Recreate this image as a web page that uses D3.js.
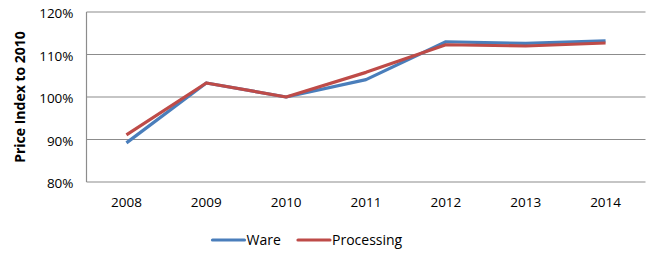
<!DOCTYPE html>
<html>
<head>
<meta charset="utf-8">
<script src="https://cdn.jsdelivr.net/npm/d3@7"></script>
<style>
  body { margin: 0; background: #fff; }
  svg text { font-family: "Open Sans", sans-serif; fill: #000; }
</style>
</head>
<body>
<svg id="chart" width="649" height="254"></svg>
<script>
const years = ['2008', '2009', '2010', '2011', '2012', '2013', '2014'];
const ware = [0.892, 1.033, 1.000, 1.041, 1.130, 1.126, 1.132];
const processing = [0.911, 1.033, 1.000, 1.058, 1.123, 1.120, 1.127];
const yTicks = [0.8, 0.9, 1.0, 1.1, 1.2];

const series = [
  {name: 'Ware', values: ware, color: '#4a7ebb'},
  {name: 'Processing', values: processing, color: '#be4b48'}
];

const svg = d3.select('#chart');
const margin = {left: 86.5, right: 3.5, top: 12, bottom: 72};
const width = 649, height = 254;

const x = d3.scaleBand().domain(years)
  .range([margin.left, width - margin.right]);
const y = d3.scaleLinear().domain([0.8, 1.2])
  .range([height - margin.bottom, margin.top]);

// gridlines
svg.append('g').selectAll('line').data(yTicks).join('line')
  .attr('x1', margin.left).attr('x2', width - margin.right)
  .attr('y1', d => y(d)).attr('y2', d => y(d))
  .attr('stroke', '#8c8c8c').attr('stroke-width', 1.2);

// left axis line
svg.append('line')
  .attr('x1', margin.left).attr('x2', margin.left)
  .attr('y1', y(1.2)).attr('y2', y(0.8))
  .attr('stroke', '#8c8c8c').attr('stroke-width', 1.2);

const yAxis = svg.append('g')
  .attr('transform', `translate(${margin.left},1.5)`)
  .call(d3.axisLeft(y).tickValues(yTicks).tickFormat(d3.format('.0%')).tickSize(0).tickPadding(13));
yAxis.select('.domain').remove();
yAxis.selectAll('text').style('font-size', '13.5px');

const xAxis = svg.append('g')
  .attr('transform', `translate(0,${y(0.8)})`)
  .call(d3.axisBottom(x).tickSize(0).tickPadding(15));
xAxis.select('.domain').remove();
xAxis.selectAll('text').style('font-size', '13.5px');

// y title
svg.append('text')
  .attr('transform', `translate(24.5,${(y(0.8) + y(1.2)) / 2}) rotate(-90)`)
  .attr('text-anchor', 'middle')
  .style('font-size', '14px').style('font-weight', 'bold')
  .text('Price Index to 2010');

const line = d3.line()
  .x((d, i) => x(years[i]) + x.bandwidth() / 2)
  .y(d => y(d));

svg.append('g').selectAll('path').data(series).join('path')
  .attr('d', d => line(d.values))
  .attr('fill', 'none')
  .attr('stroke', d => d.color)
  .attr('stroke-width', 3.2)
  .attr('stroke-linejoin', 'round');

// legend
const legendPos = [212.5, 298];
const legend = svg.append('g').selectAll('g').data(series).join('g')
  .attr('transform', (d, i) => `translate(${legendPos[i]},243)`);
legend.append('line')
  .attr('x1', 0).attr('x2', 32).attr('y1', -3).attr('y2', -3)
  .attr('stroke', d => d.color).attr('stroke-width', 3.2)
  .attr('stroke-linecap', 'round');
legend.append('text')
  .attr('x', 34).attr('y', 2)
  .style('font-size', '14px')
  .text(d => d.name);
</script>
</body>
</html>
